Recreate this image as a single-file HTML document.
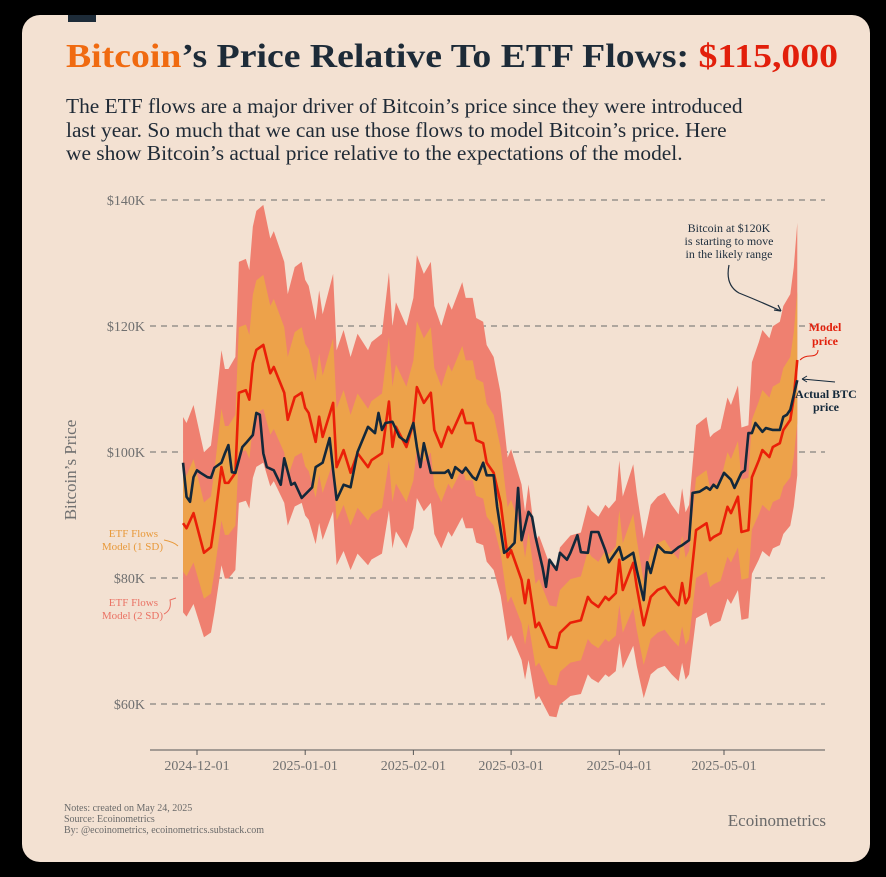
<!DOCTYPE html>
<html><head><meta charset="utf-8">
<style>
html,body{margin:0;padding:0;background:#000;}
body{width:886px;height:877px;position:relative;overflow:hidden;font-family:"Liberation Serif",serif;}
#card{position:absolute;left:22px;top:15px;width:848px;height:847px;background:#f3e1d2;border-radius:18px;overflow:hidden;}
#tab{position:absolute;left:46px;top:0;width:28px;height:7px;background:#1d2b38;}
#title{position:absolute;left:44px;top:23px;font-size:34px;font-weight:bold;color:#1d2b38;white-space:nowrap;transform-origin:0 0;}
#sub{position:absolute;left:44px;top:80px;width:690px;font-size:21.4px;line-height:23.5px;color:#1f2a36;}
svg{position:absolute;left:0;top:0;}
</style></head><body>
<div id="card">
<div id="tab"></div>
<div id="title"><span style="color:#f06a10">Bitcoin</span>’s Price Relative To ETF Flows: <span style="color:#e21f0b">$115,000</span></div>
<div id="sub">The ETF flows are a major driver of Bitcoin’s price since they were introduced last year. So much that we can use those flows to model Bitcoin’s price. Here we show Bitcoin’s actual price relative to the expectations of the model.</div>
</div>
<svg id="chart" width="886" height="877"></svg>
<script>
(function(){const t=document.getElementById('title');const w=t.getBoundingClientRect().width;t.style.transform='scaleX('+(772/w)+')';})();
// days since 2024-12-01, values in $K
const modelDays=[-4,-3,-1,2,4,5,7,8,9,11,12,14,15,16,17,19,21,22,25,26,28,30,31,32,34,35,36,39,40,42,44,46,49,50,53,55,56,57,60,62,63,65,67,68,70,72,73,76,77,79,80,82,83,85,87,89,90,93,94,95,97,98,101,103,104,107,110,112,113,115,117,118,120,121,122,125,126,128,130,132,134,136,138,139,140,141,143,146,147,148,150,152,153,155,156,158,159,161,162,164,165,167,168,170,171,172];
const modelVals=[88.7,87.9,90.3,84.0,84.9,88.7,97.6,95.1,95.1,96.7,109.4,109.8,108.3,114.1,116.2,117.0,112.5,113.5,109.4,105.1,108.7,109.4,107.0,106.2,101.6,105.6,102.4,107.8,97.6,100.3,96.7,99.8,97.6,98.7,99.8,108.0,100.8,104.0,100.8,104.6,110.3,107.8,109.4,103.5,100.8,104.0,103.0,106.7,104.6,104.6,101.9,101.4,98.3,96.7,91.9,83.3,84.4,79.7,76.0,79.7,72.2,72.9,69.1,68.9,71.3,72.9,73.3,77.0,76.2,75.4,77.0,76.5,77.6,82.9,78.1,82.4,78.6,72.5,77.0,78.1,78.6,77.0,75.7,79.2,76.0,77.0,87.6,88.7,86.0,86.5,87.1,91.3,90.3,92.9,87.3,87.6,96.0,98.7,100.3,99.2,100.8,101.4,103.5,105.1,108.7,114.6];
const btcDays=[-4,-3,-2,-1,0,1,3,4,5,7,8,9,10,11,13,14,16,17,18,19,20,22,24,25,27,28,30,33,34,36,38,39,40,42,44,46,49,51,52,53,54,56,58,60,62,63,64,65,67,71,72,73,74,76,77,79,80,82,83,85,86,88,89,91,92,93,95,96,97,99,100,101,103,104,106,107,109,110,112,113,115,117,118,121,122,125,126,127,128,129,130,132,134,136,138,139,141,142,144,146,147,148,149,151,153,154,156,157,158,159,160,162,163,165,167,168,169,170,172];
const btcVals=[98.3,92.9,92.1,96.0,97.1,96.7,96.0,95.9,97.5,98.3,99.8,101.1,96.8,96.7,100.8,101.4,102.7,106.2,105.9,99.8,97.6,97.1,94.8,99.0,94.8,95.1,92.7,94.4,97.6,98.3,102.2,97.1,92.4,94.8,94.4,100.0,104.0,103.0,106.2,103.5,104.6,104.8,102.4,101.6,104.6,100.8,97.6,101.4,96.7,96.7,97.1,95.9,97.6,96.7,97.5,96.0,95.6,98.3,96.3,96.3,91.3,84.0,84.4,85.6,94.3,86.0,90.5,89.7,86.5,81.7,78.6,82.9,81.3,84.0,82.9,84.0,86.8,84.1,84.0,87.3,87.3,84.4,82.5,84.9,82.9,84.0,81.3,78.9,76.5,82.5,80.8,85.2,84.1,84.0,84.9,85.2,86.0,93.5,93.7,94.4,94.0,94.8,94.3,96.7,95.6,94.3,96.7,97.1,103.0,103.0,104.6,103.2,103.8,103.5,103.5,105.6,105.9,106.7,111.4];
const sd1Factor=1.095, sd2Factor=1.19;
const yTicks=[60,80,100,120,140];
const yTickLabels=["$60K","$80K","$100K","$120K","$140K"];
const xTickDays=[0,31,62,90,121,151];
const xTickLabels=["2024-12-01","2025-01-01","2025-02-01","2025-03-01","2025-04-01","2025-05-01"];

const svg=document.getElementById('chart');
const NS='http://www.w3.org/2000/svg';
const X=d=>197+d*3.49;
const Y=v=>452-(v-100)*6.3;
function mk(tag,attrs,parent){const e=document.createElementNS(NS,tag);for(const k in attrs)e.setAttribute(k,attrs[k]);(parent||svg).appendChild(e);return e;}
function txt(s,attrs){const t=mk('text',attrs);t.textContent=s;return t;}

yTicks.forEach((v,i)=>{
  const g=mk('line',{x1:150,x2:825,y1:Y(v),y2:Y(v),stroke:'#6a6a6a','stroke-width':1,'stroke-dasharray':'6,5'});
  
  
  const t=txt(yTickLabels[i],{x:145,y:Y(v)+5,'text-anchor':'end','font-size':14,fill:'#707070','font-family':'Liberation Serif, serif'});
  
  
});
function band(f){
  let up=modelDays.map((d,i)=>X(d)+','+Y(modelVals[i]*f));
  let lo=modelDays.map((d,i)=>X(d)+','+Y(modelVals[i]/f)).reverse();
  return up.concat(lo).join(' ');
}
const b2=mk('polygon',{points:band(sd2Factor),fill:'#ef8070'});


const b1=mk('polygon',{points:band(sd1Factor),fill:'#eda24a'});


const ml=mk('polyline',{points:modelDays.map((d,i)=>X(d)+','+Y(modelVals[i])).join(' '),fill:'none',stroke:'#ea1f08','stroke-width':2.6,'stroke-linejoin':'round'});


const bl=mk('polyline',{points:btcDays.map((d,i)=>X(d)+','+Y(btcVals[i])).join(' '),fill:'none',stroke:'#13283a','stroke-width':2.6,'stroke-linejoin':'round'});


const ax=mk('line',{x1:150,x2:825,y1:750,y2:750,stroke:'#555','stroke-width':1});


xTickDays.forEach((d,i)=>{
  const tk=mk('line',{x1:X(d),x2:X(d),y1:750,y2:755,stroke:'#555'});
  
  
  const t=txt(xTickLabels[i],{x:X(d),y:770,'text-anchor':'middle','font-size':14,fill:'#707070','font-family':'Liberation Serif, serif'});
  
  
});
</script>
<svg width="886" height="877" font-family="Liberation Serif, serif">
<text x="76" y="470" transform="rotate(-90 76 470)" text-anchor="middle" font-size="17" fill="#707070">Bitcoin’s Price</text>
<g fill="#e8993a" font-size="11" text-anchor="end"><text x="158" y="537">ETF Flows</text><text x="163" y="550">Model (1 SD)</text></g>
<path d="M164,540 q10,2 14,6" stroke="#e8993a" fill="none"/>
<g fill="#ea7264" font-size="11" text-anchor="end"><text x="158" y="606">ETF Flows</text><text x="163" y="619">Model (2 SD)</text></g>
<path d="M164,614 q8,-4 6,-14 l6,-2" stroke="#ea7264" fill="none"/>
<g fill="#1f2f3e" font-size="12" text-anchor="middle"><text x="729" y="232">Bitcoin at $120K</text><text x="729" y="245">is starting to move</text><text x="729" y="258">in the likely range</text></g>
<path d="M729,265 q-4,20 10,28 q20,8 42,18" stroke="#1f2f3e" fill="none" stroke-width="1.2"/>
<path d="M781,311 l-7,-1 m7,1 l-3,-6" stroke="#1f2f3e" fill="none" stroke-width="1.2"/>
<g fill="#e21f0b" font-size="12" font-weight="bold" text-anchor="middle"><text x="825" y="331">Model</text><text x="825" y="345">price</text></g>
<path d="M818,350 q0,6 -8,6 q-6,0 -10,4" stroke="#e21f0b" fill="none"/>
<g fill="#13283a" font-size="12" font-weight="bold" text-anchor="middle"><text x="826" y="398">Actual BTC</text><text x="826" y="411">price</text></g>
<path d="M835,382 L802,379 m0,0 l5,-3 m-5,3 l5,3" stroke="#13283a" fill="none"/>
<g fill="#6a6a6a" font-size="10"><text x="64" y="811">Notes: created on May 24, 2025</text><text x="64" y="822">Source: Ecoinometrics</text><text x="64" y="833">By: @ecoinometrics, ecoinometrics.substack.com</text></g>
<text x="826" y="826" text-anchor="end" font-size="17" fill="#6a6a6a">Ecoinometrics</text>
</svg>
</body></html>
